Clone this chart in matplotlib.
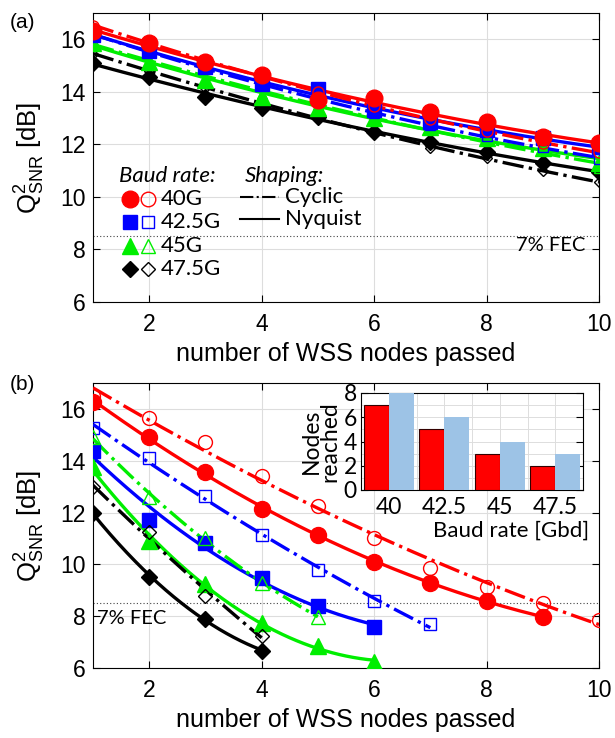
import numpy as np
import matplotlib.pyplot as plt

plt.rcParams['font.family'] = ['Liberation Sans', 'DejaVu Sans']
plt.rcParams['mathtext.fontset'] = 'custom'
plt.rcParams['mathtext.rm'] = 'Liberation Sans'
plt.rcParams['mathtext.it'] = 'Liberation Sans:italic'

# ---- data -----------------------------------------------------------
baud = ['40G', '42.5G', '45G', '47.5G']
colors = ['#ff0000', '#0000ff', '#00ee00', '#000000']
markers = ['o', 's', '^', 'D']

# (a) Nyquist (filled) / Cyclic (open), nodes 1..10
a_nyq_40 = [16.3, 15.87, 15.15, 14.64, 13.7, 13.78, 13.24, 12.85, 12.28, 12.05]
a_cyc_40 = [16.5, 15.9, 15.2, 14.6, 14.0, 13.45, 12.95, 12.5, 12.05, 11.7]
a_nyq_425 = [16.15, 15.57, 14.95, 14.3, 14.1, 13.3, 12.85, 12.55, 12.25, 11.9]
a_cyc_425 = [16.2, 15.5, 14.9, 14.25, 13.7, 13.2, 12.75, 12.3, 11.9, 11.45]
a_nyq_45 = [15.85, 15.15, 14.45, 13.8, 13.4, 13.0, 12.65, 12.25, 11.85, 11.3]
a_cyc_45 = [15.9, 15.2, 14.5, 13.9, 13.5, 13.0, 12.6, 12.2, 11.8, 11.1]
a_nyq_475 = [15.08, 14.55, 13.8, 13.4, 13.05, 12.47, 12.09, 11.7, 11.29, 10.94]
a_cyc_475 = [15.45, 14.8, 14.15, 13.6, 13.0, 12.45, 11.85, 11.5, 11.0, 10.56]

# (b), nodes starting at 1
b_nyq_40 = [16.26, 14.93, 13.55, 12.13, 11.12, 10.09, 9.3, 8.6, 7.97]
b_cyc_40 = [16.5, 15.64, 14.74, 13.4, 12.26, 11.0, 9.87, 9.14, 8.5, 7.87]
b_nyq_425 = [14.39, 11.7, 10.81, 9.48, 8.39, 7.59]
b_cyc_425 = [15.25, 14.09, 12.65, 11.12, 9.77, 8.58, 7.68]
b_nyq_45 = [13.74, 10.9, 9.23, 7.74, 6.86, 6.22]
b_cyc_45 = [14.9, 12.6, 11.03, 9.29, 7.97]
b_nyq_475 = [11.97, 9.52, 7.9, 6.67]
b_cyc_475 = [12.97, 11.23, 8.77, 7.25]

# inset
inset_labels = ['40', '42.5', '45', '47.5']
reach_nyq = [7, 5, 3, 2]
reach_cyc = [8, 6, 4, 3]

fec_limit = 8.5

W, H = 615, 738
fig = plt.figure(figsize=(W / 100, H / 100), dpi=100)


def fbox(l, t, r, b):
    return [l / W, 1 - b / H, (r - l) / W, (b - t) / H]


ax1 = fig.add_axes(fbox(93, 13, 599, 302))
ax2 = fig.add_axes(fbox(93, 383, 599, 668))


def draw_series(ax, y, c, m, filled, ms):
    y = np.asarray(y)
    x = np.arange(1, len(y) + 1)
    p = np.polyfit(x, y, 2)
    xf = np.linspace(x[0], x[-1], 200)
    ls = '-' if filled else '-.'
    ax.plot(xf, np.polyval(p, xf), ls, color=c, lw=2.4, zorder=3)
    if filled:
        ax.plot(x, y, m, color=c, ms=ms, mec=c, zorder=4, ls='none')
    else:
        ax.plot(x, y, m, mfc='none', mec=c, ms=ms, mew=1.0, zorder=4, ls='none')


def size_for(m, base):
    return {'o': base, 's': base * 0.85, '^': base * 0.95, 'D': base * 0.7}[m]


a_nyq = [a_nyq_40, a_nyq_425, a_nyq_45, a_nyq_475]
a_cyc = [a_cyc_40, a_cyc_425, a_cyc_45, a_cyc_475]
b_nyq = [b_nyq_40, b_nyq_425, b_nyq_45, b_nyq_475]
b_cyc = [b_cyc_40, b_cyc_425, b_cyc_45, b_cyc_475]

for i in range(3, -1, -1):
    draw_series(ax1, a_cyc[i], colors[i], markers[i], False, size_for(markers[i], 8))
    draw_series(ax1, a_nyq[i], colors[i], markers[i], True, size_for(markers[i], 12))
for i in range(4):
    draw_series(ax2, b_cyc[i], colors[i], markers[i], False, size_for(markers[i], 10))
    draw_series(ax2, b_nyq[i], colors[i], markers[i], True, size_for(markers[i], 11.5))

for ax in (ax1, ax2):
    ax.set_xlim(1, 10)
    ax.set_ylim(6, 17)
    ax.set_xticks([2, 4, 6, 8, 10])
    ax.set_yticks([6, 8, 10, 12, 14, 16])
    ax.grid(True, color='#dddddd', lw=0.8)
    ax.set_axisbelow(True)
    ax.tick_params(direction='in', top=True, right=True, labelsize=16.5, length=5, pad=5)
    ax.tick_params(axis='x', pad=8)
    ax.axhline(fec_limit, color='#444444', lw=0.8, ls=(0, (1, 2)), zorder=2)
    ax.set_xlabel('number of WSS nodes passed', fontsize=18, labelpad=4)
    ax.set_ylabel(r'$\mathrm{Q^2_{SNR}}$ [dB]', fontsize=18.5)
    ax.yaxis.set_label_coords(-0.09, 0.5)

fig.text(10 / W, 1 - 23 / H, '(a)', fontsize=15, va='center')
fig.text(10 / W, 1 - 385 / H, '(b)', fontsize=15, va='center')

calib = ['Lato', 'DejaVu Sans']
fig.text(585 / W, 1 - 246 / H, '7% FEC', family=calib, fontsize=14.5, ha='right', va='center')
fig.text(97 / W, 1 - 618 / H, '7% FEC', family=calib, fontsize=14.5, ha='left', va='center')

# legend of (a)
fig.text(119 / W, 1 - 176 / H, 'Baud rate:', family=calib, style='italic', fontsize=16, va='center')
fig.text(245 / W, 1 - 176 / H, 'Shaping:', family=calib, style='italic', fontsize=16, va='center')
rows = [199, 222, 246, 269]
for i in range(4):
    yy = 1 - rows[i] / H
    ax1.plot([130 / W], [yy], markers[i], color=colors[i], ms=size_for(markers[i], 12),
             transform=fig.transFigure, clip_on=False, zorder=6)
    ax1.plot([148 / W], [yy], markers[i], mfc='none', mec=colors[i], ms=size_for(markers[i], 10.5),
             mew=1.0, transform=fig.transFigure, clip_on=False, zorder=6)
    fig.text(161 / W, yy, baud[i], family=calib, fontsize=16, va='center')
ax1.plot([240 / W, 279 / W], [1 - 197 / H] * 2, '-.', color='k', lw=1.5,
         transform=fig.transFigure, clip_on=False)
ax1.plot([240 / W, 279 / W], [1 - 219 / H] * 2, '-', color='k', lw=1.5,
         transform=fig.transFigure, clip_on=False)
fig.text(285 / W, 1 - 197 / H, 'Cyclic', family=calib, fontsize=16, va='center')
fig.text(285 / W, 1 - 219 / H, 'Nyquist', family=calib, fontsize=16, va='center')

# inset
axi = fig.add_axes(fbox(361, 393, 583, 490))
pos = np.arange(len(inset_labels))
axi.bar(pos - 0.45, reach_nyq, width=0.45, align='edge', color='#ff0000', edgecolor='#330000', lw=0.8, zorder=3)
axi.bar(pos, reach_cyc, width=0.45, align='edge', color='#9dc3e6', edgecolor='none', zorder=3)
axi.set_xlim(-0.5, 3.5)
axi.set_ylim(0, 8)
axi.set_yticks([0, 2, 4, 6, 8])
axi.set_yticks(np.arange(0, 9, 1), minor=True)
axi.set_xticks(pos)
axi.set_xticks(pos + 0.5, minor=True)
axi.set_xticklabels(inset_labels)
axi.grid(True, which='both', color='#dddddd', lw=0.7)
axi.tick_params(which='major', direction='in', right=True, labelsize=16.5, length=5, pad=3)
axi.tick_params(which='minor', length=0)
axi.tick_params(axis='x', length=0, pad=5)
for lab in axi.get_xticklabels() + axi.get_yticklabels():
    lab.set_family(calib)
axi.set_ylabel('Nodes\nreached', family=calib, fontsize=16.5, linespacing=0.9, labelpad=2)
fig.text(589 / W, 1 - 531 / H, 'Baud rate [Gbd]', family=calib, fontsize=16, ha='right', va='center')

fig.savefig('out.png', dpi=100)
